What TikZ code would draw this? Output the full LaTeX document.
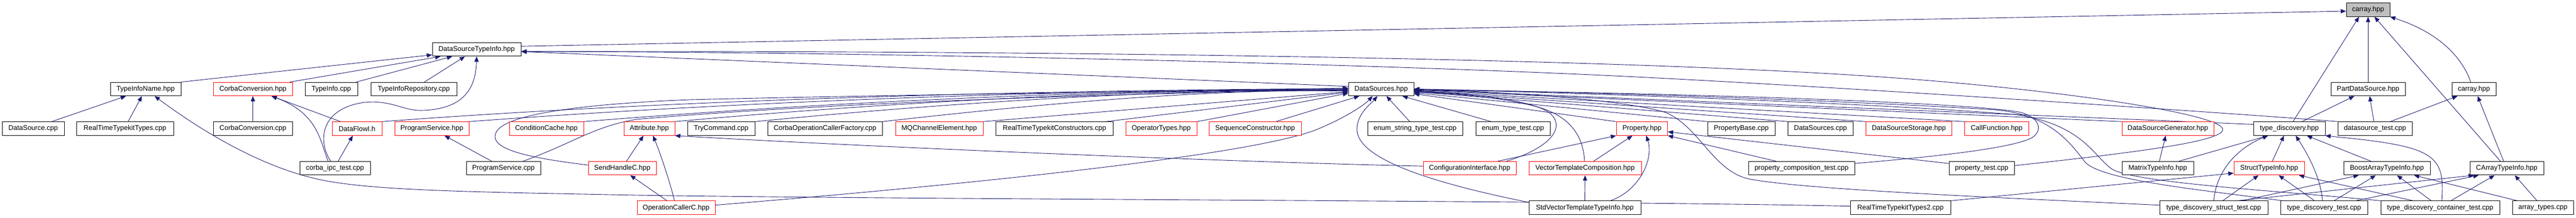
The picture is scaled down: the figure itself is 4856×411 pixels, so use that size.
\documentclass[tikz,border=0pt]{standalone}
\usepackage{fontspec}
\setmainfont{Liberation Sans}
\usetikzlibrary{arrows.meta,backgrounds}
\definecolor{edgec}{HTML}{191970}
\definecolor{nred}{HTML}{FF0000}
\definecolor{rootg}{HTML}{BFBFBF}
\tikzset{
  nb/.style={draw=black, fill=white, line width=1pt, minimum height=25.5pt, inner sep=0pt, text=black, font=\fontsize{13}{15}\selectfont},
  nr/.style={nb, draw=nred},
  nroot/.style={nb, fill=rootg},
  e/.style={draw=edgec, line width=0.9pt, -{Triangle[length=10pt,width=8pt]}}
}
\newcommand\gnd[6][nb]{\node[#1, minimum width={#4-#3}] (#2) at ({(#3+#4)/2},#5) {#6};}
\begin{document}
\begin{tikzpicture}[x=1pt,y=-1pt]
\useasboundingbox (0,0) rectangle (4856,411);
% row 0
\gnd[nroot]{carray}{4423}{4505}{18.4}{carray.hpp}
% row 1
\gnd{dsti}{815}{982}{93.2}{DataSourceTypeInfo.hpp}
% row 2
\gnd{tin}{208}{341}{167.9}{TypeInfoName.hpp}
\gnd[nr]{cch}{402.5}{551}{167.9}{CorbaConversion.hpp}
\gnd{ticpp}{575}{674}{167.9}{TypeInfo.cpp}
\gnd{tirep}{699}{861}{167.9}{TypeInfoRepository.cpp}
\gnd{dsh}{2542}{2665}{167.9}{DataSources.hpp}
\gnd{pds}{4394}{4534}{167.9}{PartDataSource.hpp}
\gnd{carray2}{4622}{4705}{167.9}{carray.hpp}
% row 3
\gnd{dscpp}{4}{121}{242.5}{DataSource.cpp}
\gnd{rttt}{144}{327}{242.5}{RealTimeTypekitTypes.cpp}
\gnd{cccpp}{402.5}{551}{242.5}{CorbaConversion.cpp}
\gnd[nr]{dfi}{626}{720}{242.5}{DataFlowI.h}
\gnd[nr]{psh}{744}{884}{242.5}{ProgramService.hpp}
\gnd[nr]{condc}{960}{1100}{242.5}{ConditionCache.hpp}
\gnd[nr]{attr}{1176}{1272}{242.5}{Attribute.hpp}
\gnd{trycmd}{1296}{1423}{242.5}{TryCommand.cpp}
\gnd{cocf}{1447.5}{1663}{242.5}{CorbaOperationCallerFactory.cpp}
\gnd[nr]{mqce}{1688}{1853}{242.5}{MQChannelElement.hpp}
\gnd{rttc}{1877}{2098.5}{242.5}{RealTimeTypekitConstructors.cpp}
\gnd[nr]{opt}{2122}{2256}{242.5}{OperatorTypes.hpp}
\gnd[nr]{seqc}{2279}{2453}{242.5}{SequenceConstructor.hpp}
\gnd{est}{2578}{2757}{242.5}{enum\_string\_type\_test.cpp}
\gnd{ett}{2782}{2922}{242.5}{enum\_type\_test.cpp}
\gnd[nr]{prop}{3047}{3143.5}{242.5}{Property.hpp}
\gnd{pbase}{3219}{3346}{242.5}{PropertyBase.cpp}
\gnd{dscpp2}{3370.5}{3493}{242.5}{DataSources.cpp}
\gnd[nr]{dsst}{3517.6}{3679}{242.5}{DataSourceStorage.hpp}
\gnd[nr]{callf}{3703.6}{3824}{242.5}{CallFunction.hpp}
\gnd[nr]{dsgen}{4000}{4173}{242.5}{DataSourceGenerator.hpp}
\gnd{tdh}{4248}{4383}{242.5}{type\_discovery.hpp}
\gnd{dstest}{4407}{4547}{242.5}{datasource\_test.cpp}
% row 4
\gnd{corba}{565}{698}{317.2}{corba\_ipc\_test.cpp}
\gnd{pscpp}{879}{1019}{317.2}{ProgramService.cpp}
\gnd[nr]{shc}{1109}{1237}{317.2}{SendHandleC.hpp}
\gnd[nr]{confi}{2683}{2858}{317.2}{ConfigurationInterface.hpp}
\gnd[nr]{vtc}{2882}{3094}{317.2}{VectorTemplateComposition.hpp}
\gnd{pctest}{3296}{3496}{317.2}{property\_composition\_test.cpp}
\gnd{ptest}{3674}{3797}{317.2}{property\_test.cpp}
\gnd{mti}{4000}{4135}{317.2}{MatrixTypeInfo.hpp}
\gnd[nr]{sti}{4211}{4344}{317.2}{StructTypeInfo.hpp}
\gnd{bati}{4418}{4581}{317.2}{BoostArrayTypeInfo.hpp}
\gnd{cati}{4656}{4795}{317.2}{CArrayTypeInfo.hpp}
% row 5
\gnd[nr]{occ}{1201}{1348}{391.7}{OperationCallerC.hpp}
\gnd{svtti}{2882}{3093}{391.7}{StdVectorTemplateTypeInfo.hpp}
\gnd{rttt2}{3488}{3677}{391.7}{RealTimeTypekitTypes2.cpp}
\gnd{tdst}{4071}{4275}{391.7}{type\_discovery\_struct\_test.cpp}
\gnd{tdt}{4299}{4463}{391.7}{type\_discovery\_test.cpp}
\gnd{tdct}{4488}{4712}{391.7}{type\_discovery\_container\_test.cpp}
\gnd{arrt}{4736}{4851}{391.7}{array\_types.cpp}

\begin{pgfonlayer}{background}
\fill[white] (0,0) rectangle (4856,411);
% into carray.hpp (root)
\draw[e] ([yshift=6pt]dsti.east) -- ([yshift=-2.6pt]carray.west);
\draw[e] ([xshift=7pt]tdh.north) -- ([xshift=-17pt]carray.south);
\draw[e] (pds.north) -- (carray.south);
\draw[e] ([xshift=-12pt]cati.north) -- ([xshift=12pt]carray.south);
\draw[e] ([xshift=-6pt]carray2.north) .. controls (4642,110) and (4600,62) .. (carray.south east);
% into DataSourceTypeInfo.hpp
\draw[e] (tin.north east) -- ([yshift=3pt]dsti.south west);
\draw[e] ([xshift=-5pt]cch.north east) -- ([xshift=16pt]dsti.south west);
\draw[e] ([xshift=-3pt]ticpp.north east) -- ([xshift=38pt]dsti.south west);
\draw[e] ([xshift=20pt]tirep.north) -- ([xshift=62pt]dsti.south west);
\draw[e] ([xshift=-8pt]corba.north) .. controls (600,270) and (600,205) .. (687,193) .. controls (740,188) and (760,210) .. (798,208) .. controls (880,205) and (897,160) .. (dsti.south);
\draw[e] ([yshift=5pt]dsh.west) -- ([yshift=-4pt]dsti.east);
\draw[e] ([yshift=5pt]ptest.east) .. controls (4050,285) and (4195,265) .. (4190,243) .. controls (4183,215) and (3900,172) .. (3600,149) .. controls (3100,110) and (2000,95) .. ([yshift=-4pt]dsti.east);
\draw[e] (dstest.north west) .. controls (4220,214) and (3400,159) .. (3000,141) .. controls (2400,114) and (1500,97) .. ([yshift=-4pt]dsti.east);
% into TypeInfoName.hpp
\draw[e] ([xshift=35pt]dscpp.north) -- ([xshift=-37pt]tin.south);
\draw[e] ([xshift=6pt]rttt.north) -- ([xshift=-7pt]tin.south);
\draw[e] ([yshift=3pt]rttt2.west) .. controls (3000,378) and (1800,377) .. (1200,368) .. controls (900,362) and (700,360) .. (600,338) .. controls (500,316) and (392,256) .. ([xshift=17pt]tin.south);
% into CorbaConversion.hpp
\draw[e] (cccpp.north) -- (cch.south);
\draw[e] ([xshift=-31pt]dfi.north) -- ([xshift=35pt]cch.south);
\draw[e] ([xshift=-13pt]corba.north) .. controls (603,265) and (600,214) .. ([xshift=35pt]cch.south);
% into DataFlowI.h
\draw[e] ([xshift=6pt]corba.north) -- ([xshift=-8pt]dfi.south);
% into ProgramService.hpp
\draw[e] ([xshift=-22pt]pscpp.north) -- ([xshift=24pt]psh.south);
% into Attribute.hpp
\draw[e] ([xshift=8pt]shc.north) -- ([xshift=-11pt]attr.south);
\draw[e] ([xshift=-3pt]occ.north) .. controls (1262,340) and (1245,290) .. ([xshift=7pt]attr.south);
\draw[e] ([yshift=4pt]confi.west) .. controls (2300,305) and (1600,275) .. (attr.south east);
% into SendHandleC.hpp
\draw[e] ([xshift=-17pt]occ.north) -- ([xshift=15pt]shc.south);
% into Property.hpp
\draw[e] ([xshift=53pt]confi.north) -- (prop.south west);
\draw[e] ([xshift=16pt]vtc.north) -- ([xshift=-18pt]prop.south);
\draw[e] ([xshift=48pt]svtti.north) .. controls (3090,360) and (3118,300) .. ([xshift=8pt]prop.south);
\draw[e] ([yshift=9pt]ptest.west) -- ([yshift=-6pt]prop.east);
\draw[e] ([xshift=-48pt]pctest.north) -- (prop.south east);
% into VectorTemplateComposition.hpp
\draw[e] (svtti.north) -- (vtc.south);
% into DataSourceGenerator.hpp
\draw[e] ([xshift=3pt]mti.north) -- ([xshift=-4pt]dsgen.south);
% into PartDataSource.hpp
\draw[e] ([xshift=24pt]tdh.north) -- ([xshift=-26pt]pds.south);
\draw[e] ([xshift=-2pt]dstest.north) -- ([xshift=3pt]pds.south);
% into carray.hpp (second)
\draw[e] ([xshift=29pt]dstest.north) -- ([xshift=-31pt]carray2.south);
\draw[e] ([xshift=-6pt]cati.north) -- ([xshift=7pt]carray2.south);
% into type_discovery.hpp
\draw[e] ([xshift=40pt]mti.north) -- ([xshift=-40pt]tdh.south);
\draw[e] (tdst.north) .. controls (4178,320) and (4220,278) .. ([xshift=-40pt]tdh.south);
\draw[e] ([xshift=6pt]sti.north) -- ([xshift=-10pt]tdh.south);
\draw[e] ([xshift=-3pt]tdt.north) .. controls (4375,335) and (4350,290) .. ([xshift=12pt]tdh.south);
\draw[e] ([xshift=-30pt]bati.north) -- ([xshift=33pt]tdh.south);
\draw[e] ([xshift=3pt]tdct.north) .. controls (4607,320) and (4600,295) .. (4540,278) .. controls (4490,265) and (4420,260) .. (tdh.south east);
% into StructTypeInfo.hpp
\draw[e] (rttt2.north east) -- ([yshift=4pt]sti.south west);
\draw[e] ([xshift=17pt]tdst.north) -- ([xshift=-20pt]sti.south);
\draw[e] ([xshift=-18pt]tdt.north) -- ([xshift=18pt]sti.south);
\draw[e] ([xshift=-51pt]tdct.north) -- ([xshift=56pt]sti.south);
% into BoostArrayTypeInfo.hpp
\draw[e] ([xshift=54pt]tdst.north) -- ([xshift=-53pt]bati.south);
\draw[e] ([xshift=19pt]tdt.north) -- ([xshift=-21pt]bati.south);
\draw[e] ([xshift=-17pt]tdct.north) -- ([xshift=19pt]bati.south);
\draw[e] ([xshift=-48pt]arrt.north) -- ([xshift=51pt]bati.south);
% into CArrayTypeInfo.hpp
\draw[e] ([xshift=45pt]tdst.north) -- ([xshift=-62pt]cati.south);
\draw[e] ([xshift=60pt]tdt.north) -- ([xshift=-53pt]cati.south);
\draw[e] ([xshift=20pt]tdct.north) -- ([xshift=-23pt]cati.south);
\draw[e] ([xshift=-11pt]arrt.north) -- ([xshift=15pt]cati.south);
% into DataSources.hpp, from the left and below
\draw[e] ([xshift=39pt]seqc.north) -- ([xshift=-41pt]dsh.south);
\draw[e] ([yshift=5pt]occ.east) .. controls (1800,350) and (2350,295) .. (2480,245) .. controls (2530,225) and (2570,200) .. ([xshift=-16pt]dsh.south);
\draw[e] ([yshift=-3pt]svtti.north west) .. controls (2700,345) and (2560,300) .. (2558,245) .. controls (2557,215) and (2585,195) .. ([xshift=-7pt]dsh.south);
\draw[e] ([xshift=-10pt]est.north) -- ([xshift=10pt]dsh.south);
\draw[e] ([xshift=-41pt]ett.north) -- ([xshift=40pt]dsh.south);
\draw[e] (dfi.north east) .. controls (1175,195) and (1800,171) .. ([yshift=1pt]dsh.west);
\draw[e] (psh.north east) .. controls (1300,198) and (1900,170) .. (dsh.west);
\draw[e] (condc.north east) .. controls (1460,200) and (2000,169) .. ([yshift=-1pt]dsh.west);
\draw[e] (attr.north east) .. controls (1590,200) and (2080,168) .. ([yshift=-2pt]dsh.west);
\draw[e] (trycmd.north east) .. controls (1700,202) and (2150,167) .. ([yshift=-3pt]dsh.west);
\draw[e] (cocf.north east) .. controls (1880,205) and (2250,166) .. ([yshift=-4pt]dsh.west);
\draw[e] (mqce.north east) -- ([yshift=-5pt]dsh.west);
\draw[e] ([xshift=97pt]rttc.north) -- ([yshift=-6pt]dsh.west);
\draw[e] (opt.north east) -- ([yshift=-8pt]dsh.west);
\draw[e] ([xshift=37pt]pscpp.north) .. controls (1080,270) and (1120,238) .. (1200,225) .. controls (1600,190) and (2200,175) .. ([yshift=-1pt]dsh.west);
\draw[e] ([yshift=6pt]shc.west) .. controls (1000,298) and (920,282) .. (935,250) .. controls (950,215) and (1100,196) .. (1300,188) .. controls (1800,176) and (2300,172) .. ([yshift=2pt]dsh.west);
% into DataSources.hpp, from the right
\draw[e] ([xshift=69pt]confi.north) .. controls (2920,280) and (2955,240) .. (2920,212) .. controls (2880,185) and (2750,175) .. ([yshift=-4pt]dsh.east);
\draw[e] ([xshift=-1pt]vtc.north) .. controls (2985,265) and (2968,222) .. (2900,202) .. controls (2830,183) and (2740,176) .. ([yshift=-6pt]dsh.east);
\draw[e] (prop.north west) -- ([yshift=-9pt]dsh.east);
\draw[e] (pbase.north west) -- ([yshift=-7pt]dsh.east);
\draw[e] (dscpp2.north west) -- ([yshift=-5pt]dsh.east);
\draw[e] (dsst.north west) -- ([yshift=-4pt]dsh.east);
\draw[e] (callf.north west) -- ([yshift=-3pt]dsh.east);
\draw[e] (dsgen.north west) -- ([yshift=-2pt]dsh.east);
\draw[e] ([yshift=8pt]tdh.west) -- ([yshift=-1pt]dsh.east);
\draw[e] ([yshift=9pt]pctest.east) .. controls (3650,295) and (3790,280) .. (3830,260) .. controls (3852,246) and (3845,222) .. (3810,212) .. controls (3700,190) and (3000,172) .. ([yshift=-2pt]dsh.east);
\draw[e] ([yshift=5pt]tdst.west) .. controls (3700,370) and (3400,356) .. (3300,338) .. controls (3230,325) and (3205,240) .. (3140,212) .. controls (3050,185) and (2800,172) .. (dsh.east);
\draw[e] ([xshift=-78pt]tdt.north) .. controls (4150,358) and (3960,340) .. (3930,305) .. controls (3900,265) and (3860,215) .. (3760,207) .. controls (3400,185) and (2900,172) .. (dsh.east);
\draw[e] (tdct.north west) .. controls (4300,360) and (4020,345) .. (3980,318) .. controls (3945,292) and (3925,235) .. (3800,216) .. controls (3500,192) and (2900,173) .. (dsh.east);
\end{pgfonlayer}
\end{tikzpicture}
\end{document}
